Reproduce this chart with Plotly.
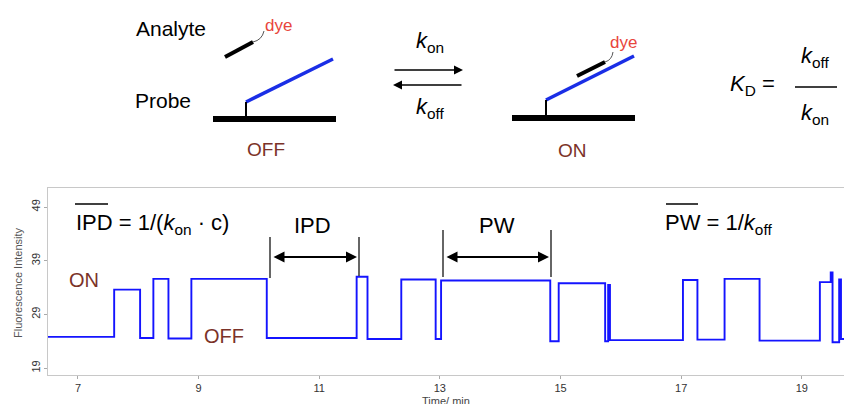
import plotly.graph_objects as go

W, H = 844, 404

# ---- data (step transitions, minutes / intensity) ----
step_times = [6.50, 7.60, 8.03, 8.25, 8.50, 8.88, 10.13, 11.62, 11.80, 12.36,
              12.93, 13.02, 14.83, 14.97, 15.74, 15.79, 15.82, 17.03, 17.27,
              17.72, 18.30, 19.30, 19.48, 19.51, 19.62, 19.65, 19.70]
step_levels = [24.8, 33.6, 24.6, 35.6, 24.5, 35.6, 24.6, 36.0, 24.4, 35.5,
               24.4, 35.3, 24.0, 34.8, 24.0, 34.5, 24.2, 35.4, 24.3,
               35.6, 24.1, 35.0, 36.8, 23.8, 35.5, 24.4, 24.4]
x_ticks = [7, 9, 11, 13, 15, 17, 19]
y_ticks = [19, 29, 39, 49]

BLUE = "#1414ff"
PROBE_BLUE = "#1a2ee6"
BROWN = "#7b3228"
RED = "#e8453c"
FONT = "Liberation Sans, Arial, Helvetica, sans-serif"


def px(x):
    return x / W


def py(y):
    return 1 - y / H


fig = go.Figure()
fig.add_trace(go.Scatter(
    x=step_times, y=step_levels, mode="lines",
    line=dict(color=BLUE, width=1.9, shape="hv"),
    hoverinfo="skip", showlegend=False,
))

shapes = []


def seg(x0, y0, x1, y1, color="black", width=2):
    shapes.append(dict(type="line", xref="paper", yref="paper",
                       x0=px(x0), y0=py(y0), x1=px(x1), y1=py(y1),
                       line=dict(color=color, width=width)))


def curve(points, color="#555", width=1):
    (x0, y0), (x1, y1), (x2, y2) = points
    path = "M %f,%f Q %f,%f %f,%f" % (px(x0), py(y0), px(x1), py(y1), px(x2), py(y2))
    shapes.append(dict(type="path", xref="paper", yref="paper", path=path,
                       line=dict(color=color, width=width)))


annots = []


def txt(x, y, text, size=20, color="black", angle=0, xanchor="center"):
    annots.append(dict(x=px(x), y=py(y), xref="paper", yref="paper", text=text,
                       showarrow=False, xanchor=xanchor, yanchor="middle",
                       textangle=angle, font=dict(family=FONT, size=size, color=color)))


def arrow(xh, yh, xt, yt, both=False, width=2, head=2, size=1.0):
    annots.append(dict(x=px(xh), y=py(yh), xref="paper", yref="paper",
                       ax=xt - xh, ay=yt - yh, text="", showarrow=True,
                       arrowhead=head, arrowsize=size, arrowwidth=width,
                       arrowcolor="black",
                       arrowside="end+start" if both else "end",
                       startarrowhead=head, startarrowsize=size))


# ---- top schematic: OFF state ----
txt(171, 29, "Analyte", 21)
txt(163, 100, "Probe", 21)
seg(225, 57, 253, 42, "black", 4)
curve([(253, 42), (262, 40), (264, 31)])
txt(278, 25, "dye", 17, RED)
seg(246, 102, 333, 59, PROBE_BLUE, 3.5)
seg(246, 102, 246, 118, "black", 2)
seg(213, 119, 336, 119, "black", 6)
txt(266, 149, "OFF", 19, BROWN)

# rate arrows
txt(430, 42, "<i>k</i><sub>on</sub>", 22)
arrow(463, 70, 393, 70, width=1.5, head=2, size=1.2)
arrow(393, 85, 463, 85, width=1.5, head=2, size=1.2)
txt(430, 108, "<i>k</i><sub>off</sub>", 22)

# ON state
seg(546, 100, 634, 56, PROBE_BLUE, 3.5)
seg(577, 76, 605, 62, "black", 4)
curve([(605, 62), (612, 60), (613, 52)])
txt(623, 43, "dye", 17, RED)
seg(546, 100, 546, 118, "black", 2)
seg(512, 118, 635, 118, "black", 6)
txt(572, 150, "ON", 19, BROWN)

# K_D
txt(752, 85, "<i>K</i><sub>D</sub> =", 22)
txt(815, 57, "<i>k</i><sub>off</sub>", 22)
seg(795, 87, 837, 87, "black", 1.5)
txt(815, 114, "<i>k</i><sub>on</sub>", 22)

# ---- annotations on the trace ----
txt(152, 224, "IPD = 1/(<i>k</i><sub>on</sub> · c)", 22)
seg(75, 204, 108, 204, "black", 1.5)
txt(312, 225, "IPD", 22)
seg(270, 237, 270, 278, "#333", 1.5)
seg(359, 237, 359, 276, "#333", 1.5)
arrow(357, 257, 272, 257, both=True, width=2.2, head=2, size=1.0)
txt(497, 225, "PW", 22)
seg(443, 230, 443, 277, "#333", 1.5)
seg(551, 230, 551, 277, "#333", 1.5)
arrow(549, 257, 445, 257, both=True, width=2.2, head=2, size=1.0)
txt(718, 224, "PW = 1/<i>k</i><sub>off</sub>", 22)
seg(666, 204, 698, 204, "black", 1.5)
txt(84, 280, "ON", 20, BROWN)
txt(224, 336, "OFF", 20, BROWN)

# axis titles
txt(18, 283, "Fluorescence Intensity", 11, "#555", angle=-90)
txt(446, 401, "Time/ min", 11, "#444")

fig.update_layout(
    width=W, height=H,
    margin=dict(l=0, r=0, t=0, b=0, autoexpand=False),
    paper_bgcolor="white", plot_bgcolor="white",
    shapes=shapes, annotations=annots,
    xaxis=dict(domain=[48 / W, 1], range=[6.503, 19.70], tickvals=x_ticks,
               automargin=False,
               showgrid=False, zeroline=False, showline=True, mirror=True,
               linecolor="#c8c8c8", linewidth=1, ticks="outside", ticklen=3,
               tickcolor="#aaa", tickfont=dict(family=FONT, size=11, color="#333")),
    yaxis=dict(domain=[(H - 375) / H, (H - 188) / H], range=[17.70, 52.54],
               tickvals=y_ticks, tickangle=-90, automargin=False,
               showgrid=False, zeroline=False, showline=True, mirror=True,
               linecolor="#c8c8c8", linewidth=1, ticks="outside", ticklen=3,
               tickcolor="#aaa", tickfont=dict(family=FONT, size=11, color="#333")),
)

fig.write_html("out.html", config={"displayModeBar": False},
               post_script="document.body.style.margin='0px';document.body.style.overflow='hidden';")
